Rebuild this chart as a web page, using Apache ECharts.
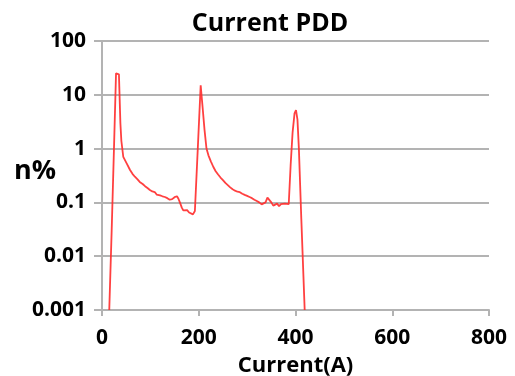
<!DOCTYPE html>
<html>
<head>
<meta charset="utf-8">
<script src="https://cdn.jsdelivr.net/npm/echarts@6/dist/echarts.min.js"></script>
<style>
  html, body { margin: 0; padding: 0; background: #fff; }
  #chart { width: 515px; height: 376px; }
</style>
</head>
<body>
<div id="chart"></div>
<script>
// Pulse-discharge distribution over current (A) — percentage of pulses, log scale
const currentA = [
  15, 20, 25, 29, 32, 35, 38, 40, 44, 51, 58, 63, 68, 73, 78, 84, 89, 94, 99,
  104, 109, 113, 116, 120, 125, 130, 135, 140, 145, 150, 155, 158, 161, 165,
  168, 172, 176, 180, 184, 188, 192, 198, 204, 208, 212, 216, 220, 225, 230,
  235, 240, 245, 250, 255, 260, 265, 270, 275, 280, 285, 290, 295, 300, 305,
  310, 315, 320, 325, 330, 334, 338, 342, 346, 350, 354, 358, 362, 366, 370,
  374, 378, 382, 386, 390, 394, 398, 401, 404, 407, 412, 419
];
const percent = [
  0.001, 0.03, 1.2, 25, 27, 24, 3.0, 1.4, 0.70, 0.53, 0.40, 0.34, 0.30, 0.27, 0.24, 0.22, 0.20, 0.185, 0.17,
  0.16, 0.156, 0.14, 0.15, 0.135, 0.13, 0.126, 0.12, 0.112, 0.115, 0.125, 0.13, 0.117, 0.10, 0.08,
  0.071, 0.07, 0.072, 0.065, 0.062, 0.06, 0.069, 1.0, 15, 5.8, 2.2, 1.0, 0.75, 0.58, 0.46,
  0.38, 0.33, 0.29, 0.26, 0.23, 0.21, 0.19, 0.175, 0.165, 0.158, 0.155, 0.145, 0.138, 0.132, 0.126,
  0.12, 0.112, 0.106, 0.1, 0.092, 0.085, 0.1, 0.123, 0.118, 0.1, 0.087, 0.081, 0.095, 0.085, 0.093,
  0.088, 0.095, 0.09, 0.093, 0.5, 2.0, 4.5, 5.2, 3.5, 1.0, 0.05, 0.001
];
const xTicks = [0, 200, 400, 600, 800];
const yTickLabels = ['0.001', '0.01', '0.1', '1', '10', '100'];

const chart = echarts.init(document.getElementById('chart'), null, { renderer: 'canvas' });
const FONT = 'Open Sans';
const GRID_GRAY = '#b3b3b3';

chart.setOption({
  animation: false,
  backgroundColor: '#ffffff',
  title: {
    text: 'Current PDD',
    left: 265, top: 6, textAlign: 'center',
    textStyle: { fontFamily: FONT, fontWeight: 'bold', fontSize: 25, color: '#000' }
  },
  grid: { left: 102, right: 26, top: 41, bottom: 66, outerBoundsMode: 'none', containLabel: false },
  // vertical-axis caption, drawn upright to the left of the tick labels
  graphic: [{
    type: 'text',
    left: 14, top: 158,
    style: { text: 'n%', fontFamily: FONT, fontWeight: 'bold', fontSize: 27, fill: '#000' }
  }],
  xAxis: {
    type: 'value',
    min: xTicks[0], max: xTicks[xTicks.length - 1], interval: 200,
    name: 'Current(A)', nameLocation: 'middle', nameGap: 45,
    nameTextStyle: { fontFamily: FONT, fontWeight: 'bold', fontSize: 22, color: '#000' },
    axisLine: { show: true, lineStyle: { color: GRID_GRAY, width: 2 } },
    axisTick: { show: true, inside: false, length: 6, lineStyle: { color: GRID_GRAY, width: 2 } },
    splitLine: { show: false },
    axisLabel: {
      margin: 18, fontFamily: FONT, fontWeight: 'bold', fontSize: 21, color: '#000',
      formatter: v => String(v)
    }
  },
  yAxis: {
    type: 'log', logBase: 10, min: 0.001, max: 100,
    axisLine: { show: true, lineStyle: { color: GRID_GRAY, width: 2 } },
    axisTick: { show: true, inside: false, length: 8, lineStyle: { color: GRID_GRAY, width: 2 } },
    splitLine: { show: true, lineStyle: { color: GRID_GRAY, width: 2 } },
    axisLabel: {
      margin: 16, fontFamily: FONT, fontWeight: 'bold', fontSize: 21, color: '#000',
      formatter: v => yTickLabels[Math.round(Math.log10(v)) + 3]
    }
  },
  series: [{
    type: 'line',
    data: currentA.map((x, i) => [x, percent[i]]),
    showSymbol: false,
    smooth: false,
    clip: true,
    lineStyle: { color: '#ff2b2b', width: 1.8, opacity: 0.9 }
  }]
});
</script>
</body>
</html>
